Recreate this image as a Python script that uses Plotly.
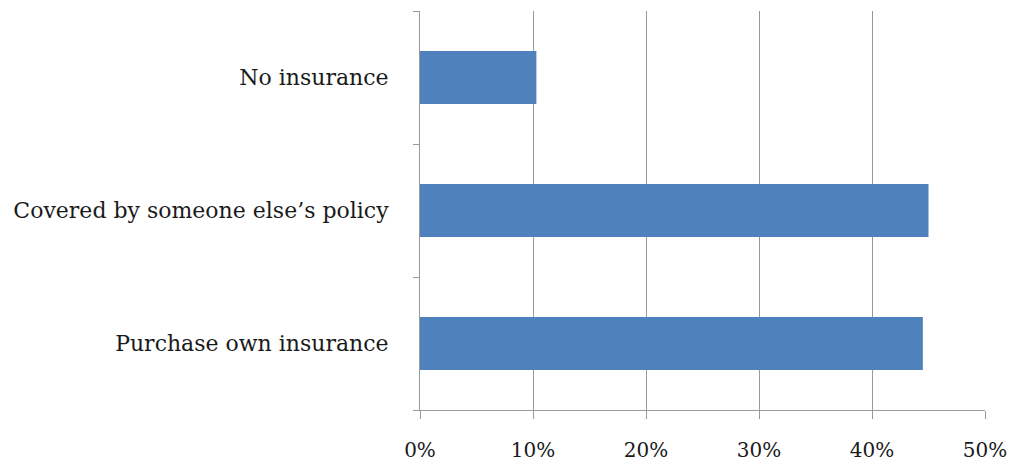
import plotly.graph_objects as go

categories = ["Purchase own insurance", "Covered by someone else’s policy", "No insurance"]
values = [44.5, 45.0, 10.3]
tick_vals = [0, 10, 20, 30, 40, 50]
tick_text = ["0%", "10%", "20%", "30%", "40%", "50%"]

font_family = "DejaVu Serif"

fig = go.Figure(go.Bar(
    x=values, y=categories, orientation="h",
    marker=dict(color="#4F81BD", line=dict(width=0)),
    width=0.4,
))

fig.update_layout(
    width=1011, height=469,
    margin=dict(l=420, r=26, t=11, b=59),
    paper_bgcolor="white", plot_bgcolor="white",
    font=dict(family=font_family, size=22, color="#1a1a1a"),
    showlegend=False,
)
fig.update_xaxes(
    range=[0, 50], tickvals=tick_vals, ticktext=tick_text,
    showgrid=True, gridcolor="#9a9a9a", gridwidth=1,
    showline=True, linecolor="#9a9a9a", linewidth=1,
    ticks="outside", ticklen=8, tickcolor="#9a9a9a",
    ticklabelstandoff=14, zeroline=False, automargin=False,
    tickfont=dict(size=20),
)
fig.update_yaxes(
    categoryorder="array", categoryarray=categories,
    showline=True, linecolor="#9a9a9a", linewidth=1,
    ticks="outside", ticklen=6, tickcolor="#9a9a9a", tickson="boundaries",
    ticklabelstandoff=26, showgrid=False, automargin=False,
)

fig.write_html("out.html")
